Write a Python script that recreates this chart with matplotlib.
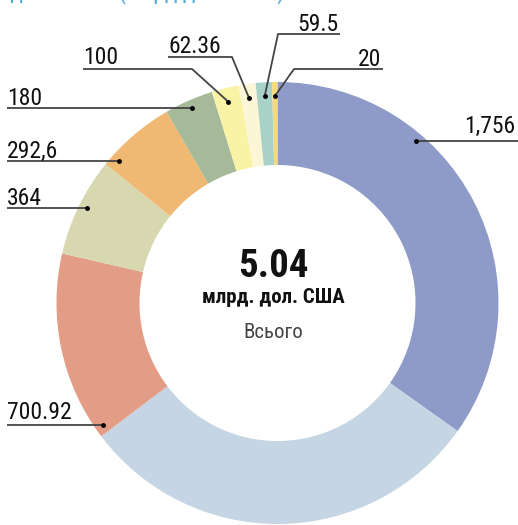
import numpy as np
import matplotlib
matplotlib.use("Agg")
import matplotlib.pyplot as plt
from matplotlib import font_manager

# values in млн дол. США, clockwise from top
values = [1756, 1504.6, 700.92, 364, 292.6, 180, 100, 62.36, 59.5, 20]
labels = ["1,756", "", "700.92", "364", "292,6", "180", "100", "62.36", "59.5", "20"]
colors = ["#8e9ac8", "#c5d5e4", "#e39c86", "#d8d8b0", "#efb973",
          "#a6b998", "#f9f3a6", "#fdf6d6", "#a8d1c8", "#f5d97a"]
total_text = "5.04"
unit_text = "млрд. дол. США"
sub_text = "Всього"
title_text = "Розподіл коштів (млрд дол. США)"

names = [f.name for f in font_manager.fontManager.ttflist]
cond = "Roboto Condensed" if "Roboto Condensed" in names else "Roboto"
plt.rcParams['font.family'] = [cond, 'DejaVu Sans']

W, H = 518, 525
fig = plt.figure(figsize=(W / 100, H / 100), dpi=100)
ax = fig.add_axes([0, 0, 1, 1])

cx, cy = 277.5, H - 303
R = 221
wedges, _ = ax.pie(values, colors=colors, startangle=90, counterclock=False,
                   radius=R, center=(cx, cy), frame=True,
                   wedgeprops=dict(width=83, linewidth=0))
ax.set_xlim(0, W)
ax.set_ylim(0, H)
ax.set_aspect('equal')
ax.axis('off')

# leader layout: (kind, line y px, text x / line span px, side, text gap)
# 'h' = horizontal line that meets the ring; 'd' = bent line to the wedge middle
layout = {
    0: ('h', 141, 518, 'right', 8),
    2: ('h', 425, 7, 'left', 6),
    3: ('h', 208, 7, 'left', 3),
    4: ('h', 161, 7, 'left', 3),
    5: ('h', 108, 7, 'left', 3),
    6: ('d', 69, (83, 192), 'left', 5),
    7: ('d', 57, (168, 232), 'left', 4),
    8: ('d', 34, (278, 340), 'right', 3),
    9: ('d', 69, (294, 383), 'right', 3),
}
line_kw = dict(color='#444444', lw=1.3, solid_capstyle='butt')
txt_kw = dict(fontsize=17, color='#111111', va='baseline')
r_dot = 213
for i, (kind, ypx, xs, side, gap) in layout.items():
    w = wedges[i]
    y = H - ypx
    if kind == 'h':
        dy = y - cy
        dx = np.sqrt(r_dot ** 2 - dy ** 2)
        px = cx + dx if side == 'right' else cx - dx
        ax.plot([px, xs], [y, y], **line_kw)
        ax.plot(px, y, 'o', color='black', ms=2.5)
        tx = xs - 3 if side == 'right' else xs
        ax.text(tx, y + gap, labels[i], ha=side, **txt_kw)
    else:
        ang = np.deg2rad((w.theta1 + w.theta2) / 2)
        px = cx + 207 * np.cos(ang)
        py = cy + 207 * np.sin(ang)
        a, b = xs
        if side == 'left':
            ax.plot([a, b, px], [y, y, py], **line_kw)
            ax.text(a, y + gap, labels[i], ha='left', **txt_kw)
        else:
            ax.plot([px, a, b], [py, y, y], **line_kw)
            ax.text(b - 2, y + gap, labels[i], ha='right', **txt_kw)
        ax.plot(px, py, 'o', color='black', ms=2.5)

ax.text(273, H - 277, total_text, ha='center', va='baseline', fontsize=28,
        fontweight='bold', color='#111111')
ax.text(273, H - 303, unit_text, ha='center', va='baseline', fontsize=15,
        fontweight='bold', color='#111111')
ax.text(273, H - 338, sub_text, ha='center', va='baseline', fontsize=15,
        color='#444444')

fig.text(285 / W, 1 + 2 / H, title_text, ha='right', va='baseline', fontsize=17,
         color='#4aa8e0')

fig.savefig("out.png", dpi=100)
